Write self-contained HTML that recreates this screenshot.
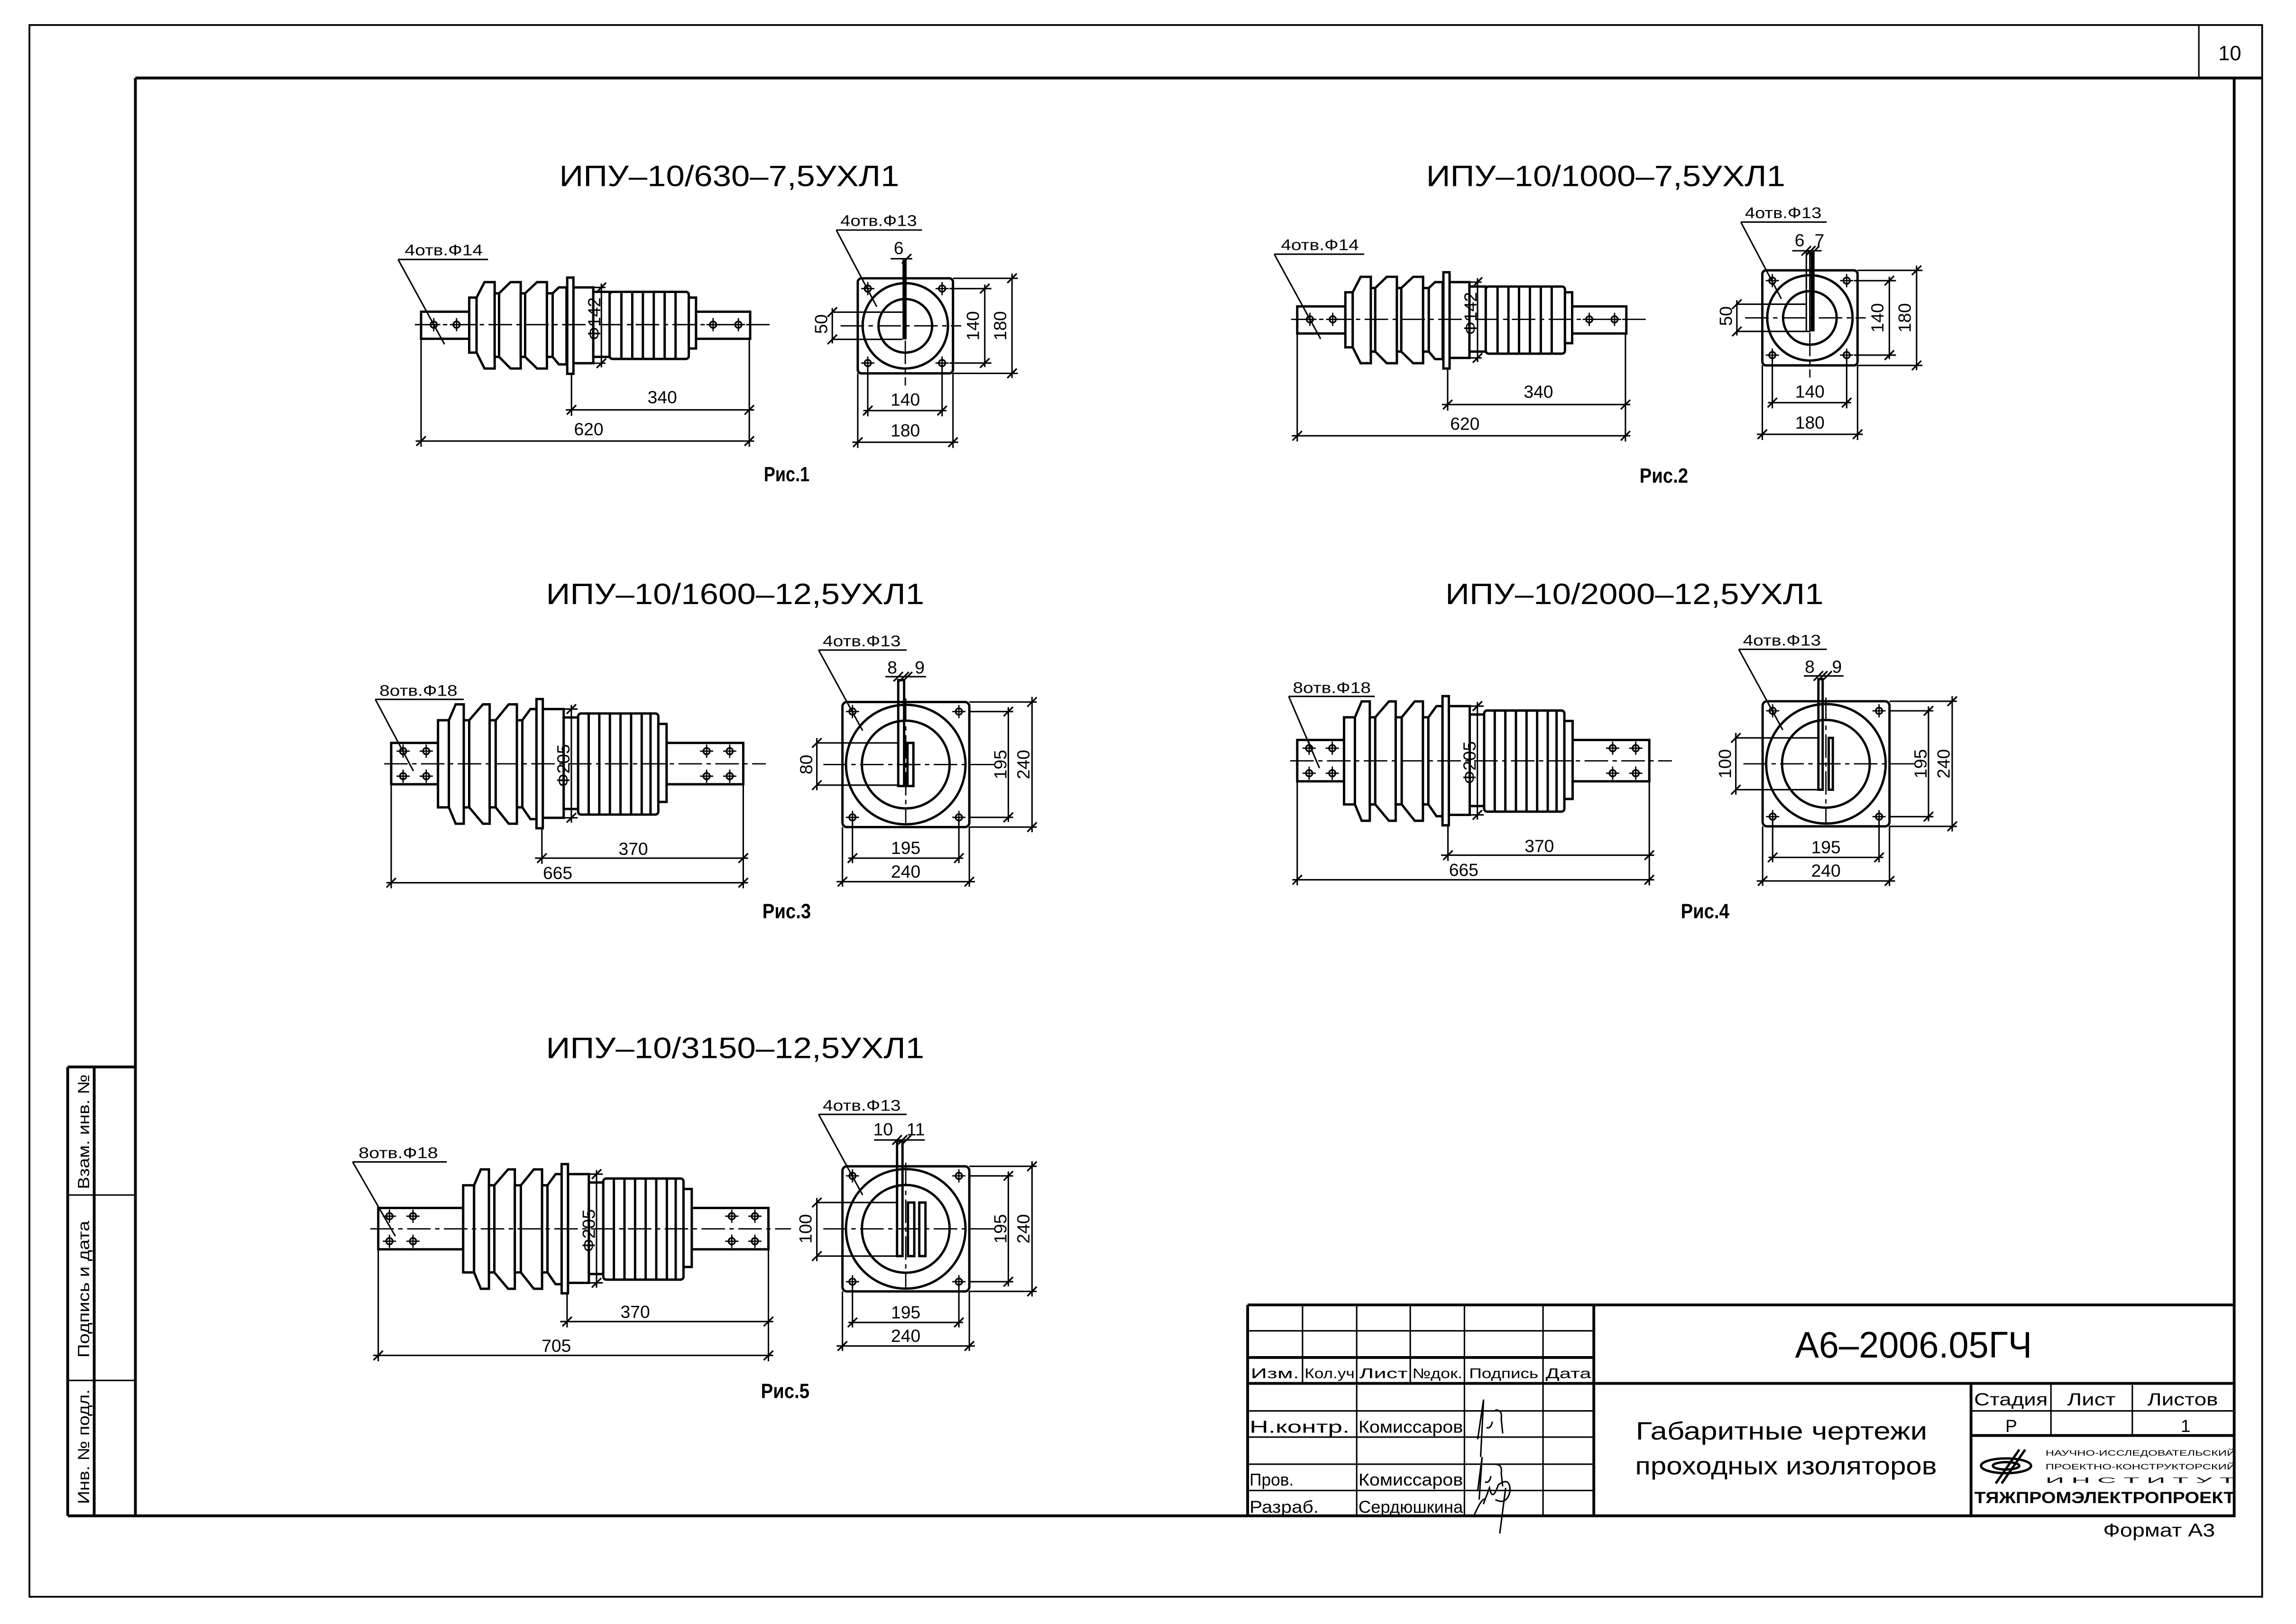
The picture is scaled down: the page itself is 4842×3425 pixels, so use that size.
<!DOCTYPE html>
<html><head><meta charset="utf-8"><style>
html,body{margin:0;padding:0;background:#fff}
svg{display:block}
.o{fill:#fff;stroke:#000;stroke-width:1.6}
.n{fill:none;stroke:#000;stroke-width:1.6}
.t{fill:none;stroke:#000;stroke-width:1}
.k{fill:none;stroke:#000;stroke-width:1.9}
.c{fill:none;stroke:#000;stroke-width:.9;stroke-dasharray:16 3 3 3}
text{font-family:"Liberation Sans",sans-serif;fill:#000}
.d{font-size:12px;text-anchor:middle}
.l{font-size:10.5px}
.ti{font-size:20px}
</style></head><body>
<svg xmlns="http://www.w3.org/2000/svg" xmlns:xlink="http://www.w3.org/1999/xlink" width="4842" height="3425" viewBox="0 0 1560 1103.5" preserveAspectRatio="none">
<defs>
<g id="tk"><line x1="-3.2" y1="3.2" x2="3.2" y2="-3.2" stroke="#000" stroke-width="1.1"/></g>
<g id="h"><circle r="2.2" fill="#fff" stroke="#000" stroke-width="1.1"/><line x1="-4.5" y1="0" x2="4.5" y2="0" stroke="#000" stroke-width=".9"/><line x1="0" y1="-4.5" x2="0" y2="4.5" stroke="#000" stroke-width=".9"/></g>
<g id="ss">
<rect class="o" x="-99.3" y="-8.8" width="32.7" height="18.4"/>
<rect class="o" x="87.5" y="-8.8" width="36.8" height="18.4"/>
<rect class="o" x="-66.6" y="-18.4" width="5" height="37.4"/>
<polygon class="o" points="-61.6,-18.4 -56.2,-28.9 -49.3,-28.9 -49.3,29.8 -56.2,29.8 -61.6,19"/>
<rect class="o" x="-49.3" y="-21.3" width="3" height="43.2"/>
<polygon class="o" points="-46.3,-21.3 -38.5,-28.9 -31.6,-28.9 -31.6,29.8 -38.5,29.8 -46.3,21.9"/>
<rect class="o" x="-31.6" y="-21.3" width="3" height="43.2"/>
<polygon class="o" points="-28.6,-21.3 -20.5,-28.9 -13.8,-28.9 -13.8,29.8 -20.5,29.8 -28.6,21.9"/>
<rect class="o" x="-13.8" y="-21.3" width="3.9" height="43.2"/>
<polygon class="o" points="-9.9,-21.3 -5.7,-25.3 -0.5,-25.3 -0.5,27 -5.7,27 -9.9,21.9"/>
<rect class="o" x="4.2" y="-25.3" width="13.5" height="51.5"/>
<rect class="o" x="17.7" y="-22.3" width="11.1" height="44.2"/>
<rect class="o" x="28.8" y="-22.3" width="53.8" height="45.6" rx="2"/>
<path class="n" d="M36.8-22.3V23.3M44.2-22.3V23.3M51.4-22.3V23.3M58.8-22.3V23.3M66.2-22.3V23.3M73.6-22.3V23.3"/>
<rect class="o" x="82.6" y="-18.4" width="4.9" height="34.6"/>
<rect class="o" x="0" y="-32" width="4.2" height="65.4"/>
<use xlink:href="#h" x="-90.7" y="0"/><use xlink:href="#h" x="-75.2" y="0"/><use xlink:href="#h" x="99.1" y="0"/><use xlink:href="#h" x="116.3" y="0"/>
</g>
<g id="sl">
<rect class="o" x="88.4" y="-14.2" width="52.1" height="28.1"/>
<rect class="o" x="-66.9" y="-29.6" width="7.4" height="59.2"/>
<polygon class="o" points="-59.5,-29.6 -54.9,-40.4 -49.4,-40.4 -49.4,40.7 -54.9,40.7 -59.5,29.6"/>
<rect class="o" x="-49.4" y="-29.6" width="3.7" height="59.2"/>
<polygon class="o" points="-45.7,-29.6 -36.4,-40.4 -31.8,-40.4 -31.8,40.7 -36.4,40.7 -45.7,29.6"/>
<rect class="o" x="-31.8" y="-29.6" width="4.1" height="59.2"/>
<polygon class="o" points="-27.7,-29.6 -18.9,-40.4 -13.3,-40.4 -13.3,40.7 -18.9,40.7 -27.7,29.6"/>
<rect class="o" x="-13.3" y="-29.6" width="3.7" height="59.2"/>
<polygon class="o" points="-9.6,-29.6 -4.1,-37.2 0,-37.2 0,37.6 -4.1,37.6 -9.6,29.6"/>
<rect class="o" x="4.3" y="-37.2" width="14.2" height="73.9"/>
<rect class="o" x="18.5" y="-31.5" width="9.8" height="62.2"/>
<rect class="o" x="28.3" y="-34.2" width="54.5" height="68.7" rx="2"/>
<path class="n" d="M35.5-34.2V34.5M42.7-34.2V34.5M49.9-34.2V34.5M57.1-34.2V34.5M64.3-34.2V34.5M71.5-34.2V34.5M77.5-34.2V34.5"/>
<rect class="o" x="82.8" y="-27.1" width="5.6" height="53"/>
<rect class="o" x="0" y="-44" width="4.3" height="87.8"/>
<use xlink:href="#h" x="115.6" y="-8.6"/><use xlink:href="#h" x="131.3" y="-8.6"/><use xlink:href="#h" x="115.6" y="8.4"/><use xlink:href="#h" x="131.3" y="8.4"/>
</g>
<g id="fs">
<rect class="n" x="-32.3" y="-32.3" width="64.7" height="64.6" rx="2.5"/>
<circle class="n" r="29"/><circle class="n" r="18.2"/>
<use xlink:href="#h" x="-25.5" y="-25.3"/><use xlink:href="#h" x="25" y="-25.3"/><use xlink:href="#h" x="-25.5" y="25.3"/><use xlink:href="#h" x="25" y="25.3"/>
<line class="c" x1="-44" y1="0" x2="38" y2="0"/>
<line class="c" x1="0" y1="10" x2="0" y2="40.6"/>
</g>
<g id="fl">
<rect class="n" x="-43" y="-42.5" width="86.2" height="85" rx="3"/>
<circle class="n" r="40.6"/><circle class="n" r="29.8"/>
<use xlink:href="#h" x="-36.2" y="-36"/><use xlink:href="#h" x="36.1" y="-36"/><use xlink:href="#h" x="-36.2" y="35.9"/><use xlink:href="#h" x="36.1" y="35.9"/>
<line class="c" x1="-56" y1="0" x2="62" y2="0"/>
<line class="c" x1="0" y1="-45" x2="0" y2="40.5"/>
</g>
<g id="dsmall">
<line class="t" x1="17.7" y1="-25.3" x2="26" y2="-25.3"/><line class="t" x1="17.7" y1="26.2" x2="26" y2="26.2"/>
<line class="t" x1="23.2" y1="-28" x2="23.2" y2="29"/>
<use xlink:href="#tk" x="23.2" y="-25.3"/><use xlink:href="#tk" x="23.2" y="26.2"/>
<line class="t" x1="2.9" y1="33.4" x2="2.9" y2="62"/><line class="t" x1="123.7" y1="9.6" x2="123.7" y2="83"/><line class="t" x1="-99.3" y1="9.6" x2="-99.3" y2="83"/>
<line class="t" x1="-1" y1="57.9" x2="127" y2="57.9"/><use xlink:href="#tk" x="2.9" y="57.9"/><use xlink:href="#tk" x="123.7" y="57.9"/>
<line class="t" x1="-103" y1="79.1" x2="127" y2="79.1"/><use xlink:href="#tk" x="-99.3" y="79.1"/><use xlink:href="#tk" x="123.7" y="79.1"/>
<line class="t" x1="-114.9" y1="-44.3" x2="-53.8" y2="-44.3"/><line class="t" x1="-114.9" y1="-44.3" x2="-83.4" y2="13.3"/>
<line class="c" x1="-103.5" y1="0" x2="139.6" y2="0"/>
</g>
<g id="dlarge">
<line class="t" x1="18.5" y1="-37.2" x2="28" y2="-37.2"/><line class="t" x1="18.5" y1="36.7" x2="28" y2="36.7"/>
<line class="t" x1="23.7" y1="-40" x2="23.7" y2="40"/>
<use xlink:href="#tk" x="23.7" y="-37.2"/><use xlink:href="#tk" x="23.7" y="36.7"/>
<line class="t" x1="3.7" y1="43.8" x2="3.7" y2="68"/><line class="t" x1="140.5" y1="13.9" x2="140.5" y2="84.6"/>
<line class="t" x1="-1" y1="64.1" x2="143.8" y2="64.1"/><use xlink:href="#tk" x="3.7" y="64.1"/><use xlink:href="#tk" x="140.5" y="64.1"/>
<line class="c" x1="-103.5" y1="0" x2="155.9" y2="0"/>
</g>
<g id="dfl">
<line class="t" x1="43" y1="-36" x2="73" y2="-36"/><line class="t" x1="43" y1="35.9" x2="73" y2="35.9"/>
<line class="t" x1="69.7" y1="-39" x2="69.7" y2="39"/><use xlink:href="#tk" x="69.7" y="-36"/><use xlink:href="#tk" x="69.7" y="35.9"/>
<line class="t" x1="43.2" y1="-42.5" x2="89" y2="-42.5"/><line class="t" x1="43.2" y1="42.5" x2="89" y2="42.5"/>
<line class="t" x1="85.8" y1="-46" x2="85.8" y2="46"/><use xlink:href="#tk" x="85.8" y="-42.5"/><use xlink:href="#tk" x="85.8" y="42.5"/>
<line class="t" x1="-36.2" y1="36" x2="-36.2" y2="67"/><line class="t" x1="36.1" y1="36" x2="36.1" y2="67"/>
<line class="t" x1="-39" y1="63.6" x2="39" y2="63.6"/><use xlink:href="#tk" x="-36.2" y="63.6"/><use xlink:href="#tk" x="36.1" y="63.6"/>
<line class="t" x1="-43" y1="42.5" x2="-43" y2="83"/><line class="t" x1="43.2" y1="42.5" x2="43.2" y2="83"/>
<line class="t" x1="-47" y1="79.6" x2="47" y2="79.6"/><use xlink:href="#tk" x="-43" y="79.6"/><use xlink:href="#tk" x="43.2" y="79.6"/>
<text class="d" transform="translate(68.5,0) rotate(-90)">195</text>
<text class="d" transform="translate(84,0) rotate(-90)">240</text>
<text class="d" x="0" y="60.8">195</text>
<text class="d" x="0" y="76.8">240</text>
<text class="l" x="-56.4" y="-80.3" textLength="53" lengthAdjust="spacingAndGlyphs">4отв.Ф13</text>
<line class="t" x1="-59.2" y1="-77.8" x2="0.6" y2="-77.8"/><line class="t" x1="-59.2" y1="-77.8" x2="-29.3" y2="-23"/>
</g>
</defs>

<!-- frames -->
<rect x="20" y="17" width="1517" height="1068" fill="none" stroke="#000" stroke-width="1.2"/>
<path class="k" d="M92 53H1537M92 53V1030H1518V53M46 1030H92"/>
<line class="t" x1="1494" y1="17" x2="1494" y2="53"/>
<text x="1515" y="41" style="font-size:14px;text-anchor:middle">10</text>
<!-- left stamp -->
<path class="k" d="M46 725V1030M64 725V1030M46 725H92"/>
<path class="t" d="M46 812H92M46 938H92"/>
<text transform="translate(60.5,769) rotate(-90)" style="font-size:11px;text-anchor:middle" textLength="78" lengthAdjust="spacingAndGlyphs">Взам. инв. №</text>
<text transform="translate(60.5,876) rotate(-90)" style="font-size:11px;text-anchor:middle" textLength="93" lengthAdjust="spacingAndGlyphs">Подпись и дата</text>
<text transform="translate(60.5,983) rotate(-90)" style="font-size:11px;text-anchor:middle" textLength="78" lengthAdjust="spacingAndGlyphs">Инв. № подл.</text>

<!-- titles -->
<text class="ti" x="380" y="126.5" textLength="231" lengthAdjust="spacingAndGlyphs">ИПУ–10/630–7,5УХЛ1</text>
<text class="ti" x="969" y="126.5" textLength="244" lengthAdjust="spacingAndGlyphs">ИПУ–10/1000–7,5УХЛ1</text>
<text class="ti" x="371" y="410.5" textLength="257" lengthAdjust="spacingAndGlyphs">ИПУ–10/1600–12,5УХЛ1</text>
<text class="ti" x="982" y="410.5" textLength="257" lengthAdjust="spacingAndGlyphs">ИПУ–10/2000–12,5УХЛ1</text>
<text class="ti" x="371" y="719" textLength="257" lengthAdjust="spacingAndGlyphs">ИПУ–10/3150–12,5УХЛ1</text>
<g style="font-size:14px;font-weight:bold">
<text x="519" y="327" textLength="31" lengthAdjust="spacingAndGlyphs">Рис.1</text>
<text x="1114" y="328" textLength="33" lengthAdjust="spacingAndGlyphs">Рис.2</text>
<text x="518" y="624" textLength="33" lengthAdjust="spacingAndGlyphs">Рис.3</text>
<text x="1142" y="624" textLength="33" lengthAdjust="spacingAndGlyphs">Рис.4</text>
<text x="517" y="950" textLength="33" lengthAdjust="spacingAndGlyphs">Рис.5</text>
</g>

<!-- Fig 1 side -->
<g transform="translate(385.4,220.6)">
<use xlink:href="#ss"/><use xlink:href="#dsmall"/>
<text class="d" transform="translate(22.5,-4) rotate(-90)">Ф142</text>
<text class="d" x="64.6" y="53.4">340</text>
<text class="d" x="14.6" y="75.1">620</text>
<text class="l" x="-110.4" y="-47.1" textLength="53" lengthAdjust="spacingAndGlyphs">4отв.Ф14</text>
</g>
<!-- Fig 2 side -->
<g transform="translate(980.7,217)">
<use xlink:href="#ss"/><use xlink:href="#dsmall"/>
<text class="d" transform="translate(22.5,-4) rotate(-90)">Ф142</text>
<text class="d" x="64.6" y="53.4">340</text>
<text class="d" x="14.6" y="75.1">620</text>
<text class="l" x="-110.4" y="-47.1" textLength="53" lengthAdjust="spacingAndGlyphs">4отв.Ф14</text>
</g>

<!-- Fig 1 front -->
<g transform="translate(615.1,221.4)">
<use xlink:href="#fs"/>
<rect x="-1.9" y="-45" width="2.8" height="54.2" fill="#000"/>
<line class="t" x1="-49.6" y1="-9.3" x2="-1.9" y2="-9.3"/><line class="t" x1="-49.6" y1="9.2" x2="-1.9" y2="9.2"/>
<line class="t" x1="-49.6" y1="-12" x2="-49.6" y2="12"/><use xlink:href="#tk" x="-49.6" y="-9.3"/><use xlink:href="#tk" x="-49.6" y="9.2"/>
<text class="d" transform="translate(-53,-1.2) rotate(-90)">50</text>
<line class="t" x1="-10" y1="-45.6" x2="4.7" y2="-45.6"/><use xlink:href="#tk" x="0.9" y="-45.6"/>
<text class="d" x="-4.5" y="-48.7">6</text>
<text class="l" x="-44.1" y="-67.8" textLength="52" lengthAdjust="spacingAndGlyphs">4отв.Ф13</text>
<line class="t" x1="-46.9" y1="-65.1" x2="11.4" y2="-65.1"/><line class="t" x1="-46.9" y1="-65.1" x2="-19.4" y2="-13"/>
<line class="t" x1="30" y1="-25.3" x2="58.5" y2="-25.3"/><line class="t" x1="30" y1="25.3" x2="58.5" y2="25.3"/>
<line class="t" x1="54" y1="-28" x2="54" y2="28"/><use xlink:href="#tk" x="54" y="-25.3"/><use xlink:href="#tk" x="54" y="25.3"/>
<line class="t" x1="32.4" y1="-32.3" x2="76.5" y2="-32.3"/><line class="t" x1="32.4" y1="32.3" x2="76.5" y2="32.3"/>
<line class="t" x1="72.5" y1="-35.5" x2="72.5" y2="35.5"/><use xlink:href="#tk" x="72.5" y="-32.3"/><use xlink:href="#tk" x="72.5" y="32.3"/>
<text class="d" transform="translate(50,0) rotate(-90)">140</text>
<text class="d" transform="translate(68.5,0) rotate(-90)">180</text>
<line class="t" x1="-25.5" y1="25.3" x2="-25.5" y2="61.5"/><line class="t" x1="25" y1="25.3" x2="25" y2="61.5"/>
<line class="t" x1="-28.5" y1="57.6" x2="28" y2="57.6"/><use xlink:href="#tk" x="-25.5" y="57.6"/><use xlink:href="#tk" x="25" y="57.6"/>
<line class="t" x1="-32.3" y1="32.3" x2="-32.3" y2="83"/><line class="t" x1="32.4" y1="32.3" x2="32.4" y2="83"/>
<line class="t" x1="-36" y1="79.1" x2="36" y2="79.1"/><use xlink:href="#tk" x="-32.3" y="79.1"/><use xlink:href="#tk" x="32.4" y="79.1"/>
<text class="d" x="0" y="54.2">140</text><text class="d" x="0" y="75.2">180</text>
</g>
<!-- Fig 2 front -->
<g transform="translate(1229.7,216)">
<use xlink:href="#fs"/>
<rect class="t" x="-2.4" y="-45" width="2.4" height="54.2" fill="#fff"/>
<rect x="0.6" y="-45" width="2.6" height="54.2" fill="#000"/>
<line class="t" x1="-49.6" y1="-9.3" x2="-2.4" y2="-9.3"/><line class="t" x1="-49.6" y1="9.2" x2="-2.4" y2="9.2"/>
<line class="t" x1="-49.6" y1="-12" x2="-49.6" y2="12"/><use xlink:href="#tk" x="-49.6" y="-9.3"/><use xlink:href="#tk" x="-49.6" y="9.2"/>
<text class="d" transform="translate(-53,-1.2) rotate(-90)">50</text>
<line class="t" x1="-12" y1="-45.6" x2="8" y2="-45.6"/><use xlink:href="#tk" x="-2.4" y="-45.6"/><use xlink:href="#tk" x="0.6" y="-45.6"/><use xlink:href="#tk" x="3.2" y="-45.6"/>
<text class="d" x="-7" y="-48.7">6</text><text class="d" x="6.5" y="-48.7">7</text>
<text class="l" x="-44.1" y="-67.8" textLength="52" lengthAdjust="spacingAndGlyphs">4отв.Ф13</text>
<line class="t" x1="-46.9" y1="-65.1" x2="11.4" y2="-65.1"/><line class="t" x1="-46.9" y1="-65.1" x2="-19.4" y2="-13"/>
<line class="t" x1="30" y1="-25.3" x2="58.5" y2="-25.3"/><line class="t" x1="30" y1="25.3" x2="58.5" y2="25.3"/>
<line class="t" x1="54" y1="-28" x2="54" y2="28"/><use xlink:href="#tk" x="54" y="-25.3"/><use xlink:href="#tk" x="54" y="25.3"/>
<line class="t" x1="32.4" y1="-32.3" x2="76.5" y2="-32.3"/><line class="t" x1="32.4" y1="32.3" x2="76.5" y2="32.3"/>
<line class="t" x1="72.5" y1="-35.5" x2="72.5" y2="35.5"/><use xlink:href="#tk" x="72.5" y="-32.3"/><use xlink:href="#tk" x="72.5" y="32.3"/>
<text class="d" transform="translate(50,0) rotate(-90)">140</text>
<text class="d" transform="translate(68.5,0) rotate(-90)">180</text>
<line class="t" x1="-25.5" y1="25.3" x2="-25.5" y2="61.5"/><line class="t" x1="25" y1="25.3" x2="25" y2="61.5"/>
<line class="t" x1="-28.5" y1="57.6" x2="28" y2="57.6"/><use xlink:href="#tk" x="-25.5" y="57.6"/><use xlink:href="#tk" x="25" y="57.6"/>
<line class="t" x1="-32.3" y1="32.3" x2="-32.3" y2="83"/><line class="t" x1="32.4" y1="32.3" x2="32.4" y2="83"/>
<line class="t" x1="-36" y1="79.1" x2="36" y2="79.1"/><use xlink:href="#tk" x="-32.3" y="79.1"/><use xlink:href="#tk" x="32.4" y="79.1"/>
<text class="d" x="0" y="54.2">140</text><text class="d" x="0" y="75.2">180</text>
</g>

<!-- Fig 3 side -->
<g transform="translate(364.5,519)">
<rect class="o" x="-98.7" y="-14.2" width="31.8" height="28.1"/>
<use xlink:href="#h" x="-90.6" y="-8.6"/><use xlink:href="#h" x="-74.9" y="-8.6"/><use xlink:href="#h" x="-90.6" y="8.4"/><use xlink:href="#h" x="-74.9" y="8.4"/>
<use xlink:href="#sl"/><use xlink:href="#dlarge"/>
<line class="t" x1="-98.7" y1="13.9" x2="-98.7" y2="84.6"/>
<line class="t" x1="-102" y1="80.8" x2="143.8" y2="80.8"/><use xlink:href="#tk" x="-98.7" y="80.8"/><use xlink:href="#tk" x="140.5" y="80.8"/>
<text class="d" transform="translate(22.5,1.2) rotate(-90)">Ф205</text>
<text class="d" x="65.8" y="61.9">370</text>
<text class="d" x="14.4" y="78.3">665</text>
<text class="l" x="-106.7" y="-46.2" textLength="53" lengthAdjust="spacingAndGlyphs">8отв.Ф18</text>
<line class="t" x1="-109.5" y1="-43.8" x2="-49.4" y2="-43.8"/><line class="t" x1="-109.5" y1="-43.8" x2="-83.6" y2="4.9"/>
</g>
<!-- Fig 4 side -->
<g transform="translate(980.1,517)">
<rect class="o" x="-98.7" y="-14.2" width="31.8" height="28.1"/>
<use xlink:href="#h" x="-90.6" y="-8.6"/><use xlink:href="#h" x="-74.9" y="-8.6"/><use xlink:href="#h" x="-90.6" y="8.4"/><use xlink:href="#h" x="-74.9" y="8.4"/>
<use xlink:href="#sl"/><use xlink:href="#dlarge"/>
<line class="t" x1="-98.7" y1="13.9" x2="-98.7" y2="84.6"/>
<line class="t" x1="-102" y1="80.8" x2="143.8" y2="80.8"/><use xlink:href="#tk" x="-98.7" y="80.8"/><use xlink:href="#tk" x="140.5" y="80.8"/>
<text class="d" transform="translate(22.5,1.2) rotate(-90)">Ф205</text>
<text class="d" x="65.8" y="61.9">370</text>
<text class="d" x="14.4" y="78.3">665</text>
<text class="l" x="-101.7" y="-46.2" textLength="53" lengthAdjust="spacingAndGlyphs">8отв.Ф18</text>
<line class="t" x1="-104.5" y1="-43.8" x2="-46" y2="-43.8"/><line class="t" x1="-104.5" y1="-43.8" x2="-83.6" y2="4.9"/>
</g>
<!-- Fig 5 side -->
<g transform="translate(381.6,835)">
<rect class="o" x="-124.6" y="-14.2" width="57.7" height="28.1"/>
<use xlink:href="#h" x="-117" y="-8.6"/><use xlink:href="#h" x="-101" y="-8.6"/><use xlink:href="#h" x="-117" y="8.4"/><use xlink:href="#h" x="-101" y="8.4"/>
<use xlink:href="#sl"/>
<line class="t" x1="18.5" y1="-37.2" x2="28" y2="-37.2"/><line class="t" x1="18.5" y1="36.7" x2="28" y2="36.7"/>
<line class="t" x1="23.7" y1="-40" x2="23.7" y2="40"/><use xlink:href="#tk" x="23.7" y="-37.2"/><use xlink:href="#tk" x="23.7" y="36.7"/>
<line class="t" x1="3.7" y1="43.8" x2="3.7" y2="67"/><line class="t" x1="140.5" y1="13.9" x2="140.5" y2="90"/><line class="t" x1="-124.6" y1="13.9" x2="-124.6" y2="90"/>
<line class="t" x1="-1" y1="63" x2="143.8" y2="63"/><use xlink:href="#tk" x="3.7" y="63"/><use xlink:href="#tk" x="140.5" y="63"/>
<line class="t" x1="-128" y1="86" x2="143.8" y2="86"/><use xlink:href="#tk" x="-124.6" y="86"/><use xlink:href="#tk" x="140.5" y="86"/>
<line class="c" x1="-130" y1="0" x2="155.9" y2="0"/>
<text class="d" transform="translate(22.5,1.2) rotate(-90)">Ф205</text>
<text class="d" x="50" y="60.5">370</text>
<text class="d" x="-3.6" y="83.5">705</text>
<text class="l" x="-138" y="-48" textLength="54" lengthAdjust="spacingAndGlyphs">8отв.Ф18</text>
<line class="t" x1="-142" y1="-45.5" x2="-78" y2="-45.5"/><line class="t" x1="-142" y1="-45.5" x2="-113" y2="5"/>
</g>

<!-- Fig 3 front -->
<g transform="translate(615.4,519.5)">
<use xlink:href="#fl"/>
<rect class="n" x="-5.1" y="-57.4" width="4" height="72" fill="#fff"/>
<rect class="n" x="1.2" y="-14.7" width="4" height="29.3" fill="#fff"/>
<line class="t" x1="-60.4" y1="-14.7" x2="-5.1" y2="-14.7"/><line class="t" x1="-60.4" y1="14" x2="-5.1" y2="14"/>
<line class="t" x1="-60.4" y1="-18" x2="-60.4" y2="17.5"/><use xlink:href="#tk" x="-60.4" y="-14.7"/><use xlink:href="#tk" x="-60.4" y="14"/>
<text class="d" transform="translate(-63.5,0) rotate(-90)">80</text>
<line class="t" x1="-13.8" y1="-59.7" x2="13.8" y2="-59.7"/><use xlink:href="#tk" x="-5.1" y="-59.7"/><use xlink:href="#tk" x="-1.1" y="-59.7"/><use xlink:href="#tk" x="1.2" y="-59.7"/>
<text class="d" x="-9.2" y="-61.8">8</text><text class="d" x="9.5" y="-61.8">9</text>
<use xlink:href="#dfl"/>
</g>
<!-- Fig 4 front -->
<g transform="translate(1240.6,519)">
<use xlink:href="#fl"/>
<rect class="n" x="-5.1" y="-57.5" width="2.9" height="75.1" fill="#fff"/>
<rect class="n" x="1.9" y="-17.6" width="2.8" height="35.2" fill="#fff"/>
<line class="t" x1="-61.2" y1="-17.6" x2="-5.1" y2="-17.6"/><line class="t" x1="-61.2" y1="17.6" x2="-5.1" y2="17.6"/>
<line class="t" x1="-61.2" y1="-21" x2="-61.2" y2="21"/><use xlink:href="#tk" x="-61.2" y="-17.6"/><use xlink:href="#tk" x="-61.2" y="17.6"/>
<text class="d" transform="translate(-64.5,0) rotate(-90)">100</text>
<line class="t" x1="-15" y1="-59.7" x2="12" y2="-59.7"/><use xlink:href="#tk" x="-5.1" y="-59.7"/><use xlink:href="#tk" x="-2.2" y="-59.7"/><use xlink:href="#tk" x="0.8" y="-59.7"/>
<text class="d" x="-11" y="-61.8">8</text><text class="d" x="7.5" y="-61.8">9</text>
<use xlink:href="#dfl"/>
</g>
<!-- Fig 5 front -->
<g transform="translate(615.4,835)">
<use xlink:href="#fl"/>
<rect class="n" x="-5.9" y="-59.8" width="3.7" height="78.3" fill="#fff"/>
<rect class="n" x="1.5" y="-17.9" width="4.3" height="36.4" fill="#fff"/>
<rect class="n" x="9.2" y="-17.9" width="4.2" height="36.4" fill="#fff"/>
<line class="t" x1="-60.4" y1="-17.9" x2="-5.9" y2="-17.9"/><line class="t" x1="-60.4" y1="18.5" x2="-5.9" y2="18.5"/>
<line class="t" x1="-60.4" y1="-21" x2="-60.4" y2="22"/><use xlink:href="#tk" x="-60.4" y="-17.9"/><use xlink:href="#tk" x="-60.4" y="18.5"/>
<text class="d" transform="translate(-64,0) rotate(-90)">100</text>
<line class="t" x1="-21.5" y1="-60.4" x2="13" y2="-60.4"/><use xlink:href="#tk" x="-5.9" y="-60.4"/><use xlink:href="#tk" x="-2.2" y="-60.4"/><use xlink:href="#tk" x="0.5" y="-60.4"/>
<text class="d" x="-15.4" y="-63.5">10</text><text class="d" x="6.8" y="-63.5">11</text>
<use xlink:href="#dfl"/>
</g>

<!-- title block -->
<path class="k" d="M847.7 886.7H1518M847.7 886.7V1030M1082.9 886.7V1030M847.7 922.4H1082.9M847.7 940H1518M1339.2 940V1030M1339.2 975.4H1518"/>
<path class="t" d="M847.7 904.3H1082.9M847.7 958.7H1082.9M847.7 976.5H1082.9M847.7 994.9H1082.9M847.7 1012.8H1082.9M885 886.7V940M958.2 886.7V940M921.8 886.7V1030M995 886.7V1030M1048.4 886.7V1030M1339.2 958.7H1518M1393.5 940V975.4M1448.8 940V975.4"/>
<g style="font-size:9.5px;text-anchor:middle">
<text x="866.3" y="936.5" textLength="33" lengthAdjust="spacingAndGlyphs">Изм.</text>
<text x="903.4" y="936.5" textLength="34" lengthAdjust="spacingAndGlyphs">Кол.уч</text>
<text x="940" y="936.5" textLength="33" lengthAdjust="spacingAndGlyphs">Лист</text>
<text x="976.6" y="936.5" textLength="34" lengthAdjust="spacingAndGlyphs">№док.</text>
<text x="1021.7" y="936.5" textLength="47" lengthAdjust="spacingAndGlyphs">Подпись</text>
<text x="1065.6" y="936.5" textLength="31" lengthAdjust="spacingAndGlyphs">Дата</text>
</g>
<g style="font-size:11.5px">
<text x="849" y="973.5" textLength="68" lengthAdjust="spacingAndGlyphs">Н.контр.</text>
<text x="923" y="973.5" textLength="71" lengthAdjust="spacingAndGlyphs">Комиссаров</text>
<text x="849" y="1009.5" textLength="30" lengthAdjust="spacingAndGlyphs">Пров.</text>
<text x="923" y="1009.5" textLength="71" lengthAdjust="spacingAndGlyphs">Комиссаров</text>
<text x="849" y="1028" textLength="47" lengthAdjust="spacingAndGlyphs">Разраб.</text>
<text x="923" y="1028" textLength="71" lengthAdjust="spacingAndGlyphs">Сердюшкина</text>
</g>
<g style="font-size:12px;text-anchor:middle">
<text x="1366.3" y="955" textLength="50" lengthAdjust="spacingAndGlyphs">Стадия</text>
<text x="1421" y="955" textLength="33" lengthAdjust="spacingAndGlyphs">Лист</text>
<text x="1483" y="955" textLength="48" lengthAdjust="spacingAndGlyphs">Листов</text>
<text x="1366.5" y="973">Р</text>
<text x="1485" y="973">1</text>
</g>
<text x="1219.6" y="922.4" style="font-size:25px" textLength="161" lengthAdjust="spacingAndGlyphs">А6–2006.05ГЧ</text>
<text x="1111.4" y="978.2" style="font-size:17px;font-weight:300" textLength="198" lengthAdjust="spacingAndGlyphs">Габаритные чертежи</text>
<text x="1111" y="1001.8" style="font-size:17px" textLength="205" lengthAdjust="spacingAndGlyphs">проходных изоляторов</text>
<g style="font-size:5.5px">
<text x="1389.8" y="989.2" textLength="129" lengthAdjust="spacingAndGlyphs">НАУЧНО-ИССЛЕДОВАТЕЛЬСКИЙ</text>
<text x="1389.8" y="998.4" textLength="129" lengthAdjust="spacingAndGlyphs">ПРОЕКТНО-КОНСТРУКТОРСКИЙ</text>
<text x="1389.8" y="1007.6" textLength="129" lengthAdjust="spacingAndGlyphs">И Н С Т И Т У Т</text>
</g>
<text x="1341.5" y="1021.4" style="font-size:11px;font-weight:bold" textLength="177" lengthAdjust="spacingAndGlyphs">ТЯЖПРОМЭЛЕКТРОПРОЕКТ</text>
<g fill="none" stroke="#000" stroke-width="1.6">
<ellipse cx="1363" cy="996" rx="17" ry="5"/><ellipse cx="1363" cy="996" rx="9" ry="2.5"/>
<line x1="1372" y1="985" x2="1356" y2="1008"/><line x1="1376" y1="985" x2="1360" y2="1008"/>
</g>
<text x="1429" y="1044" style="font-size:12.5px" textLength="76" lengthAdjust="spacingAndGlyphs">Формат А3</text>
<!-- signatures -->
<g fill="none" stroke="#000" stroke-width="1">
<path d="M1004 978 L1008 951 L1006 990 M1010 970 q3 1 4 -4 M1016 958 q5 0 4 6 l1 10"/>
<path d="M1004 1013 L1007 990 L1005 1019 M1009 1007 q3 1 4 -4 M1016 995 q5 0 4 6 l1 9"/>
<path d="M1001 1031 q6 -14 8 -12 q-3 8 3 -8 q2 10 6 -2 q8 -6 8 4 q-2 10 -10 6 M1023 1011 l-4 31"/>
</g>
</svg>
</body></html>
